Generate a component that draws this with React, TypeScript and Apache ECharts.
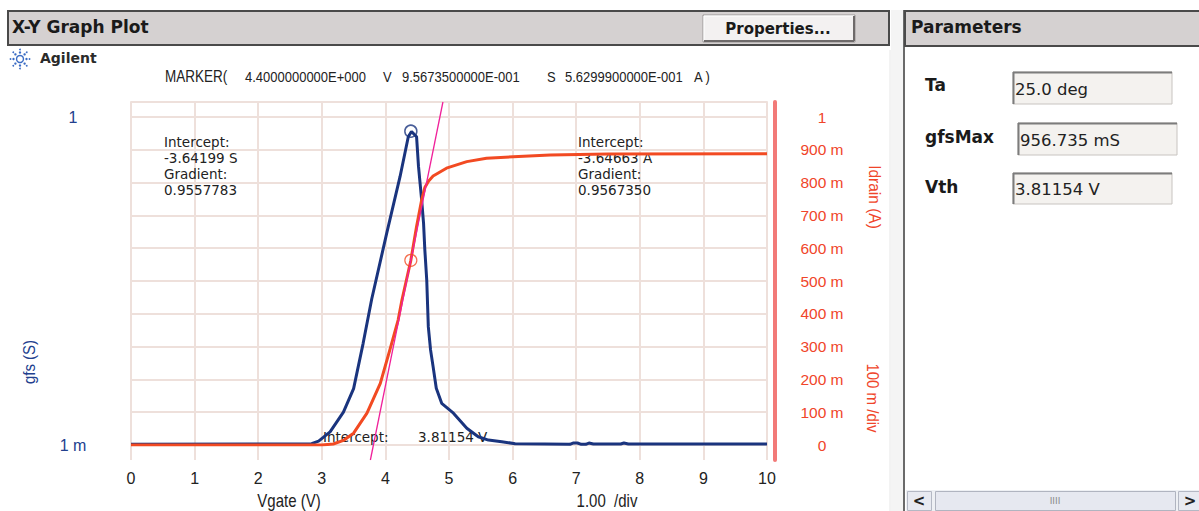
import React, { useEffect, useRef } from "react";
import * as echarts from "echarts";

// ---- data ----
const GFS_V = [0, 2.84, 2.95, 3.13, 3.34, 3.5, 3.65, 3.785, 4.02, 4.23, 4.36, 4.41, 4.49, 4.52, 4.57, 4.6, 4.62, 4.65, 4.675, 4.71, 4.75, 4.8, 4.885, 5.07, 5.28, 5.46, 5.62, 5.83, 6.04, 6.5, 6.9, 6.95, 7.02, 7.08, 7.15, 7.2, 7.27, 7.7, 7.75, 7.82, 10];
const GFS_S = [0.002, 0.004, 0.012, 0.04, 0.1, 0.172, 0.31, 0.445, 0.645, 0.818, 0.94, 0.956, 0.94, 0.85, 0.747, 0.676, 0.595, 0.503, 0.36, 0.29, 0.239, 0.173, 0.127, 0.097, 0.051, 0.025, 0.015, 0.01, 0.004, 0.003, 0.002, 0.006, 0.006, 0.002, 0.002, 0.006, 0.003, 0.003, 0.006, 0.003, 0.003];
const ID_V = [0, 3.0, 3.18, 3.35, 3.5, 3.71, 3.92, 4.07, 4.2, 4.26, 4.4, 4.49, 4.57, 4.62, 4.68, 4.75, 4.96, 5.28, 5.59, 6.01, 6.59, 7.5, 10];
const ID_A = [0, 0, 0.003, 0.015, 0.036, 0.097, 0.188, 0.29, 0.381, 0.442, 0.563, 0.666, 0.747, 0.785, 0.805, 0.82, 0.844, 0.864, 0.874, 0.879, 0.884, 0.887, 0.888];
const RIGHT_TICK_LABELS = ["0", "100 m", "200 m", "300 m", "400 m", "500 m", "600 m", "700 m", "800 m", "900 m", "1"];
const LEFT_TICK_LABELS = ["1 m", "1"];
const MARKER_V = 4.4;
const MARKER_GFS = 0.956735;
const MARKER_ID = 0.562999;
const TAN_INTERCEPT = -3.64663;
const TAN_GRADIENT = 0.956735;
const MARKER_TEXTS = ["MARKER(", "4.4000000000E+000", "V", "9.5673500000E-001", "S", "5.6299900000E-001", "A )"];
const LEFT_NOTE = ["Intercept:", "-3.64199 S", "Gradient:", "0.9557783"];
const RIGHT_NOTE = ["Intercept:", "-3.64663 A", "Gradient:", "0.9567350"];
const PARAMS = [
  ["Ta", "25.0 deg"],
  ["gfsMax", "956.735 mS"],
  ["Vth", "3.81154 V"],
];

// ---- styles ----
const LIB = "'Liberation Sans', Arial, sans-serif";
const DEJA = "'DejaVu Sans', sans-serif";
const BLUE = "#1a347e";
const BLUE_TXT = "#22408e";
const RED = "#f24a22";
const RED_TXT = "#f0452a";
const GRID_C = "#eee0db";
const FRAME_MIN = -0.0457;
const FRAME_MAX = 1.0457;

function txt(text: string, x: number, y: number, font: string, fill = "#222", align = "left", extra: any = {}) {
  return {
    type: "text",
    x,
    y,
    z: 1,
    ...extra,
    style: { text, font, fill, textAlign: align, textVerticalAlign: "middle" },
  };
}

function rect(x: number, y: number, w: number, h: number, fill: string, stroke?: string, lw = 1) {
  return {
    type: "rect",
    z: 0,
    shape: { x, y, width: w, height: h },
    style: { fill, stroke: stroke || null, lineWidth: lw },
  };
}

function line(x1: number, y1: number, x2: number, y2: number, stroke: string, lw = 1) {
  return { type: "line", z: 0, shape: { x1, y1, x2, y2 }, style: { stroke, lineWidth: lw } };
}

function buildGraphics() {
  const g: any[] = [];
  // Title bar
  g.push(rect(8, 11, 881, 34, "#d5d1d1", "#4a4a4a", 2));
  g.push(txt("X-Y Graph Plot", 12, 27, `bold 17px ${DEJA}`, "#1a1a1a"));
  // Properties button
  g.push(rect(703, 15, 152, 27, "#f3f1f1", "#9a9696", 1));
  g.push(line(704, 16, 854, 16, "#ffffff", 1));
  g.push(line(704, 16, 704, 41, "#ffffff", 1));
  g.push(line(704, 41, 854, 41, "#6e6a6a", 2));
  g.push(line(854, 16, 854, 41, "#6e6a6a", 2));
  g.push(txt("Properties...", 778, 29, `bold 15px ${DEJA}`, "#1a1a1a", "center"));
  // separator strip & panel
  g.push(line(890, 50, 890, 511, "#e6e6e6", 1));
  g.push(rect(891, 10, 12, 501, "#f4f4f4"));
  g.push(line(904, 10, 904, 511, "#6a6a6a", 2));
  g.push(rect(905, 11, 300, 35, "#d5d1d1", "#4a4a4a", 2));
  g.push(txt("Parameters", 911, 27, `bold 17px ${DEJA}`, "#1a1a1a"));
  const boxes = [
    { lx: 925, ly: 85, bx: 1013, by: 72, bw: 159, bh: 32 },
    { lx: 925, ly: 137, bx: 1018, by: 123, bw: 159, bh: 32 },
    { lx: 925, ly: 187, bx: 1013, by: 173, bw: 159, bh: 31 },
  ];
  PARAMS.forEach((p, i) => {
    const b = boxes[i];
    g.push(txt(p[0], b.lx, b.ly, `bold 17px ${DEJA}`, "#1a1a1a"));
    g.push(rect(b.bx, b.by, b.bw, b.bh, "#f4f2ef", "#c8c4c0", 1));
    g.push(line(b.bx, b.by + 0.5, b.bx + b.bw, b.by + 0.5, "#7c7c7c", 2));
    g.push(line(b.bx + 0.5, b.by, b.bx + 0.5, b.by + b.bh, "#7c7c7c", 2));
    g.push(txt(p[1], b.bx + 2, b.by + b.bh / 2 + 1, `16.5px ${DEJA}`, "#222"));
  });
  // scrollbar
  g.push(rect(906, 490, 293, 21, "#eef0f4"));
  g.push(rect(907.5, 491.5, 24, 19, "#e8eaf1", "#b4b8c4", 1));
  g.push(rect(935.5, 491.5, 240, 19, "#e6e8f0", "#b0b4c0", 1));
  g.push(rect(1178.5, 491.5, 22, 19, "#e8eaf1", "#b4b8c4", 1));
  g.push(txt("<", 919, 501, `bold 15px ${DEJA}`, "#222", "center"));
  g.push(txt(">", 1190, 501, `bold 15px ${DEJA}`, "#222", "center"));
  g.push(txt("IIII", 1055, 501, `9px ${DEJA}`, "#888", "center"));
  // Agilent logo
  const cx = 20, cy = 59;
  g.push({ type: "circle", z: 1, shape: { cx, cy, r: 3.5 }, style: { fill: "none", stroke: "#3b6cc4", lineWidth: 1.4 } });
  for (let k = 0; k < 8; k++) {
    const a = (k * Math.PI) / 4;
    const rr = [6.5, 9.5];
    rr.forEach((r, j) => {
      g.push({ type: "circle", z: 1, shape: { cx: cx + r * Math.cos(a), cy: cy + r * Math.sin(a), r: j === 0 ? 1.2 : 0.9 }, style: { fill: "#3b6cc4" } });
    });
  }
  g.push(txt("Agilent", 40, 58, `bold 14px ${DEJA}`, "#2a2a2a"));
  // marker readout
  const mx = [165, 245, 383, 402, 547, 565, 694];
  MARKER_TEXTS.forEach((t, i) => g.push(txt(t, mx[i], 77, `${i === 0 ? 13.5 : 13}px ${LIB}`, "#222", "left", { scaleY: 1.18 })));
  // annotations
  LEFT_NOTE.forEach((t, i) => g.push(txt(t, 164, 142 + i * 16, `13.5px ${DEJA}`, "#222")));
  RIGHT_NOTE.forEach((t, i) => g.push(txt(t, 578, 142 + i * 16, `13.5px ${DEJA}`, "#222")));
  g.push(txt("Intercept:", 323, 437, `13.5px ${DEJA}`, "#222"));
  g.push(txt("3.81154 V", 418, 437, `13.5px ${DEJA}`, "#222"));
  // axis names
  g.push(txt("gfs (S)", 29, 362, `15px ${LIB}`, BLUE_TXT, "center", { rotation: Math.PI / 2, scaleY: 1.1 }));
  g.push(txt("Idrain (A)", 875, 197, `15.5px ${LIB}`, RED_TXT, "center", { rotation: -Math.PI / 2, scaleY: 1.1 }));
  g.push(txt("100 m /div", 873, 398, `15px ${LIB}`, RED_TXT, "center", { rotation: -Math.PI / 2, scaleY: 1.1 }));
  g.push(txt("Vgate (V)", 289, 501, `15px ${LIB}`, "#222", "center", { scaleY: 1.2 }));
  g.push(txt("1.00  /div", 607, 501, `15px ${LIB}`, "#222", "center", { scaleY: 1.2 }));
  return g;
}

export default function App() {
  const ref = useRef<HTMLDivElement>(null);
  useEffect(() => {
    if (!ref.current) return;
    const chart = echarts.init(ref.current, null, { renderer: "svg" });
    const gfsData = GFS_V.map((v, i) => [v, GFS_S[i]]);
    const idData = ID_V.map((v, i) => [v, ID_A[i]]);
    const tanData = [FRAME_MIN, FRAME_MAX].map((i) => [(i - TAN_INTERCEPT) / TAN_GRADIENT, i]);
    chart.setOption({
      animation: false,
      backgroundColor: "#ffffff",
      grid: [
        { left: 131, right: 432, top: 102, bottom: 51 },
        { left: 131, right: 432, top: 117, bottom: 66 },
      ],
      xAxis: [
        {
          gridIndex: 0,
          type: "value",
          min: 0,
          max: 10,
          interval: 1,
          axisLine: { show: false, onZero: false },
          axisTick: { show: false },
          axisLabel: { margin: 10, color: "#222", fontFamily: LIB, fontSize: 16 },
          splitLine: { show: true, lineStyle: { color: GRID_C, width: 2 } },
        },
        { gridIndex: 1, type: "value", min: 0, max: 10, show: false },
        {
          gridIndex: 0,
          type: "value",
          position: "top",
          min: 0,
          max: 10,
          axisLine: { show: true, onZero: false, lineStyle: { color: GRID_C, width: 2 } },
          axisTick: { show: false },
          axisLabel: { show: false },
          splitLine: { show: false },
        },
      ],
      yAxis: [
        {
          gridIndex: 0,
          type: "value",
          min: FRAME_MIN,
          max: FRAME_MAX,
          position: "right",
          offset: 8,
          axisLine: { show: true, onZero: false, lineStyle: { color: "#f27a78", width: 4 } },
          axisTick: { show: false },
          axisLabel: { show: false },
          splitLine: { show: false },
        },
        {
          gridIndex: 1,
          type: "value",
          min: 0,
          max: 1,
          interval: 1,
          position: "left",
          axisLine: { show: false, onZero: false },
          axisTick: { show: false },
          axisLabel: {
            formatter: (v: number) => LEFT_TICK_LABELS[Math.round(v)],
            align: "center",
            margin: 58,
            color: BLUE_TXT,
            fontFamily: LIB,
            fontSize: 16,
          },
          splitLine: { show: false },
        },
        {
          gridIndex: 1,
          type: "value",
          min: 0,
          max: 1,
          interval: 0.1,
          position: "right",
          axisLine: { show: false, onZero: false },
          axisTick: { show: false },
          axisLabel: {
            formatter: (v: number) => RIGHT_TICK_LABELS[Math.round(v * 10)],
            align: "center",
            margin: 55,
            color: RED_TXT,
            fontFamily: LIB,
            fontSize: 15.5,
          },
          splitLine: { show: true, lineStyle: { color: GRID_C, width: 2 } },
        },
      ],
      graphic: { elements: buildGraphics() },
      series: [
        {
          type: "line",
          name: "gfs",
          xAxisIndex: 1,
          yAxisIndex: 1,
          data: gfsData,
          showSymbol: false,
          symbol: "none",
          lineStyle: { color: BLUE, width: 3 },
          z: 3,
        },
        {
          type: "line",
          name: "Idrain",
          xAxisIndex: 1,
          yAxisIndex: 2,
          data: idData,
          showSymbol: false,
          symbol: "none",
          lineStyle: { color: RED, width: 3 },
          z: 4,
        },
        {
          type: "line",
          name: "tangent",
          xAxisIndex: 0,
          yAxisIndex: 0,
          data: tanData,
          showSymbol: false,
          symbol: "none",
          lineStyle: { color: "#f0209a", width: 1.3 },
          z: 5,
        },
        {
          type: "scatter",
          xAxisIndex: 1,
          yAxisIndex: 1,
          data: [[MARKER_V, MARKER_GFS]],
          symbol: "circle",
          symbolSize: 12,
          itemStyle: { color: "rgba(0,0,0,0)", borderColor: BLUE, borderWidth: 1.5 },
          z: 6,
        },
        {
          type: "scatter",
          xAxisIndex: 1,
          yAxisIndex: 2,
          data: [[MARKER_V, MARKER_ID]],
          symbol: "circle",
          symbolSize: 12,
          itemStyle: { color: "rgba(0,0,0,0)", borderColor: RED, borderWidth: 1.2 },
          z: 6,
        },
      ],
    });
    return () => chart.dispose();
  }, []);
  return <div ref={ref} style={{ position: "absolute", left: 0, top: 0, width: 1199, height: 511 }} />;
}
